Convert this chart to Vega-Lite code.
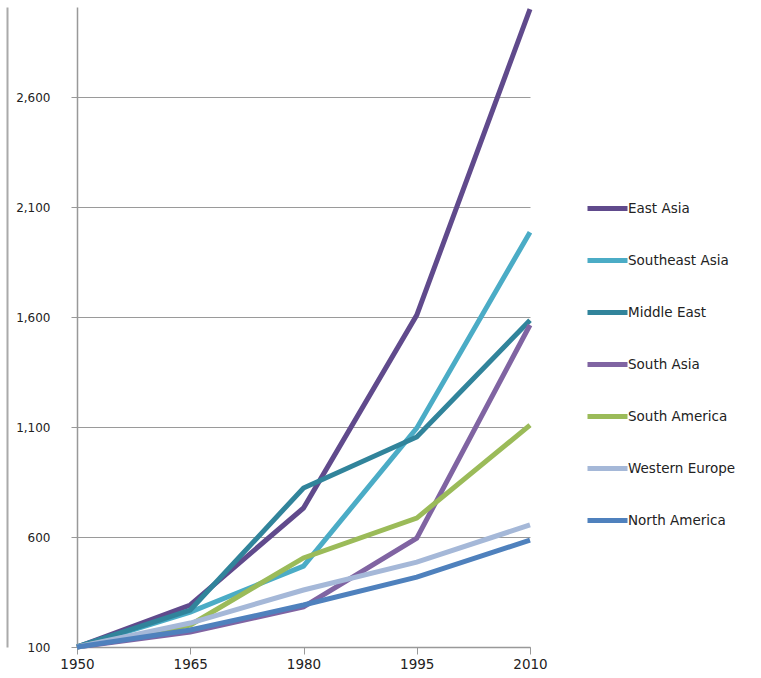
{
  "$schema": "https://vega.github.io/schema/vega-lite/v6.json",
  "width": 453,
  "height": 640,
  "autosize": {"type": "none"},
  "padding": {"left": 77, "top": 7, "right": 231, "bottom": 31},
  "background": "white",
  "config": {
    "view": {"stroke": null},
    "font": "DejaVu Sans"
  },
  "data": {
    "values": [
      {"region": "East Asia", "year": 1950, "value": 100},
      {"region": "East Asia", "year": 1965, "value": 291},
      {"region": "East Asia", "year": 1980, "value": 732},
      {"region": "East Asia", "year": 1995, "value": 1609},
      {"region": "East Asia", "year": 2010, "value": 3000},
      {"region": "Southeast Asia", "year": 1950, "value": 100},
      {"region": "Southeast Asia", "year": 1965, "value": 259},
      {"region": "Southeast Asia", "year": 1980, "value": 468},
      {"region": "Southeast Asia", "year": 1995, "value": 1095},
      {"region": "Southeast Asia", "year": 2010, "value": 1986},
      {"region": "Middle East", "year": 1950, "value": 100},
      {"region": "Middle East", "year": 1965, "value": 268},
      {"region": "Middle East", "year": 1980, "value": 823},
      {"region": "Middle East", "year": 1995, "value": 1055},
      {"region": "Middle East", "year": 2010, "value": 1586},
      {"region": "South Asia", "year": 1950, "value": 100},
      {"region": "South Asia", "year": 1965, "value": 168},
      {"region": "South Asia", "year": 1980, "value": 282},
      {"region": "South Asia", "year": 1995, "value": 595},
      {"region": "South Asia", "year": 2010, "value": 1564},
      {"region": "South America", "year": 1950, "value": 100},
      {"region": "South America", "year": 1965, "value": 200},
      {"region": "South America", "year": 1980, "value": 505},
      {"region": "South America", "year": 1995, "value": 686},
      {"region": "South America", "year": 2010, "value": 1109},
      {"region": "Western Europe", "year": 1950, "value": 100},
      {"region": "Western Europe", "year": 1965, "value": 209},
      {"region": "Western Europe", "year": 1980, "value": 359},
      {"region": "Western Europe", "year": 1995, "value": 486},
      {"region": "Western Europe", "year": 2010, "value": 655},
      {"region": "North America", "year": 1950, "value": 100},
      {"region": "North America", "year": 1965, "value": 177},
      {"region": "North America", "year": 1980, "value": 291},
      {"region": "North America", "year": 1995, "value": 418},
      {"region": "North America", "year": 2010, "value": 586}
    ]
  },
  "layer": [
    {
      "mark": {"type": "line", "strokeWidth": 5, "strokeJoin": "miter"},
      "encoding": {
        "x": {
          "field": "year", "type": "quantitative",
          "scale": {"domain": [1950, 2010], "nice": false, "zero": false},
          "axis": {
            "title": null, "values": [1950, 1965, 1980, 1995, 2010], "format": "d",
            "grid": false, "domainColor": "#999999", "domainWidth": 1.5,
            "tickColor": "#999999", "tickSize": 7, "labelPadding": 3,
            "labelFontSize": 13.5, "labelColor": "#222222", "labelFlush": false
          }
        },
        "y": {
          "field": "value", "type": "quantitative",
          "scale": {"domain": [100, 3010], "nice": false, "zero": false},
          "axis": {
            "title": null, "values": [100, 600, 1100, 1600, 2100, 2600], "format": ",d",
            "grid": true, "gridColor": "#9a9a9a", "gridWidth": 1,
            "domainColor": "#999999", "domainWidth": 1.5,
            "tickColor": "#999999", "tickSize": 6, "labelPadding": 21,
            "labelFontSize": 12, "labelColor": "#222222"
          }
        },
        "color": {
          "field": "region", "type": "nominal",
          "sort": ["East Asia", "Southeast Asia", "Middle East", "South Asia", "South America", "Western Europe", "North America"],
          "scale": {
            "domain": ["East Asia", "Southeast Asia", "Middle East", "South Asia", "South America", "Western Europe", "North America"],
            "range": ["#604a8c", "#4bacc6", "#31849b", "#8064a2", "#9bbb59", "#a5b8d8", "#4f81bd"]
          },
          "legend": {
            "title": null, "orient": "none", "legendX": 508, "legendY": 179,
            "symbolType": "stroke", "symbolSize": 1600, "symbolStrokeWidth": 5,
            "labelFontSize": 13.5, "labelColor": "#222222", "labelOffset": -2,
            "rowPadding": 19
          }
        }
      }
    },
    {
      "mark": {"type": "line", "opacity": 0},
      "encoding": {
        "x": {"field": "year", "type": "quantitative"},
        "y": {
          "field": "value", "type": "quantitative",
          "axis": {
            "orient": "left", "offset": 70, "title": null, "labels": false, "ticks": false,
            "grid": false, "domainColor": "#aaaaaa", "domainWidth": 2
          }
        },
        "detail": {"field": "region"}
      }
    }
  ],
  "resolve": {"axis": {"y": "independent"}}
}
